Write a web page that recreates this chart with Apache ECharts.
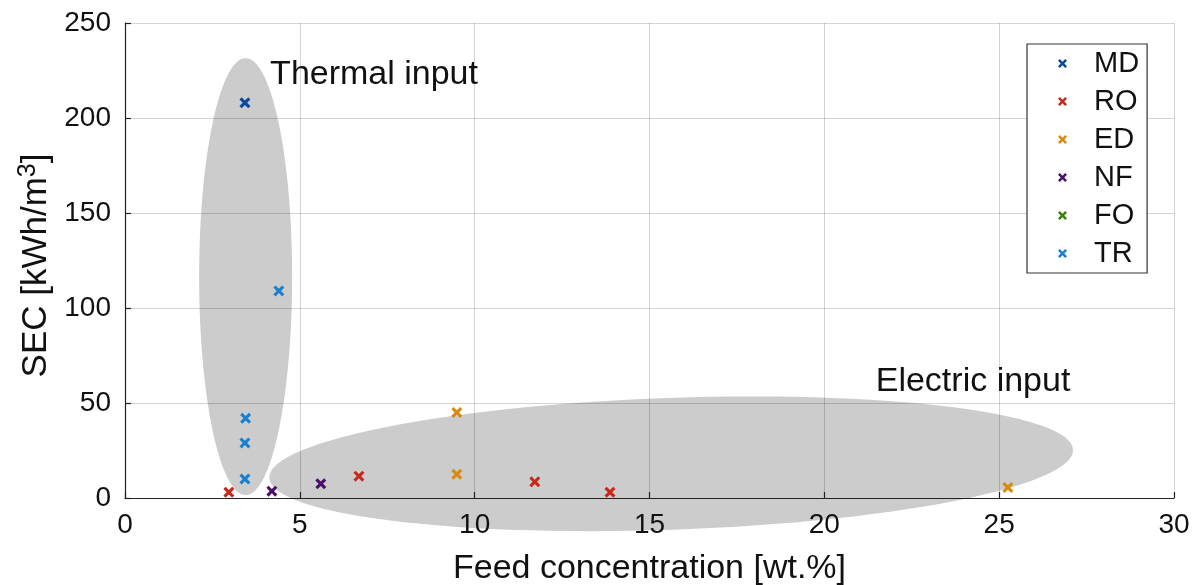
<!DOCTYPE html>
<html>
<head>
<meta charset="utf-8">
<script src="https://cdn.jsdelivr.net/npm/echarts@6/dist/echarts.min.js"></script>
<style>
html,body{margin:0;padding:0;background:#fff;}
#chart{width:1203px;height:585px;}
</style>
</head>
<body>
<div id="chart"></div>
<script>
// ---- data ----
var seriesNames = ['MD', 'RO', 'ED', 'NF', 'FO', 'TR'];
var seriesColors = ['#0a4a9e', '#c8281a', '#d98a10', '#4a0f6a', '#3a7f10', '#1880d0'];
var MD = [[3.43, 208]];
var RO = [[2.97, 3], [6.69, 11.5], [11.72, 8.5], [13.87, 3]];
var ED = [[9.49, 45], [9.49, 12.5], [25.25, 5.5]];
var NF = [[4.2, 3.6], [5.6, 7.5]];
var FO = [];
var TR = [[4.4, 109], [3.45, 42], [3.43, 29], [3.43, 10]];
// ellipses: [cx, cy, rx, ry, rotationDeg]
var ellipses = [[3.45, 116.5, 1.33, 115, 0], [15.62, 18, 11.5, 34.7, 2]];
// annotations: [x, y, text]
var annotations = [[4.15, 223, 'Thermal input'], [21.47, 61, 'Electric input']];
var xTicks = [0, 5, 10, 15, 20, 25, 30];
var yTicks = [0, 50, 100, 150, 200, 250];

var xPath = 'path://M0,2 L2,0 L5,3 L8,0 L10,2 L7,5 L10,8 L8,10 L5,7 L2,10 L0,8 L3,5 Z';
var FONT = '"Liberation Sans", Arial, Helvetica, sans-serif';
var chart = echarts.init(document.getElementById('chart'));
var dataMap = {MD: MD, RO: RO, ED: ED, NF: NF, FO: FO, TR: TR};

var series = [];
series.push({
  type: 'custom',
  name: 'ellipses',
  z: 1,
  clip: false,
  silent: true,
  data: ellipses,
  renderItem: function (params, api) {
    var c = api.coord([api.value(0), api.value(1)]);
    var s = api.size([api.value(2), api.value(3)]);
    var rot = -api.value(4) * Math.PI / 180;
    var pts = [];
    for (var i = 0; i < 120; i++) {
      var t = i / 120 * Math.PI * 2;
      var ex = s[0] * Math.cos(t), ey = s[1] * Math.sin(t);
      pts.push([c[0] + ex * Math.cos(rot) - ey * Math.sin(rot), c[1] + ex * Math.sin(rot) + ey * Math.cos(rot)]);
    }
    return {type: 'polygon', shape: {points: pts}, style: {fill: '#cccccc', stroke: null}};
  }
});
series.push({
  type: 'custom',
  name: 'annotations',
  z: 12,
  clip: false,
  silent: true,
  data: annotations,
  renderItem: function (params, api) {
    var c = api.coord([api.value(0), api.value(1)]);
    return {type: 'text', x: c[0], y: c[1], style: {text: annotations[params.dataIndex][2], fill: '#111', font: '34px ' + FONT, textAlign: 'left', textVerticalAlign: 'middle'}};
  }
});
seriesNames.forEach(function (n, i) {
  series.push({
    type: 'scatter',
    name: n,
    z: 10,
    data: dataMap[n],
    symbol: xPath,
    symbolSize: 11,
    itemStyle: {color: seriesColors[i], opacity: 1},
    emphasis: {disabled: true}
  });
});

chart.setOption({
  animation: false,
  backgroundColor: '#fff',
  grid: {left: 125, right: 29, top: 23, bottom: 87, containLabel: false, outerBoundsMode: 'none'},
  xAxis: {
    type: 'value', min: 0, max: 30, interval: 5, z: 5,
    name: 'Feed concentration [wt.%]', nameLocation: 'middle', nameGap: 54,
    nameTextStyle: {fontFamily: FONT, fontSize: 34, color: '#111'},
    axisLine: {show: true, onZero: false, lineStyle: {color: '#222', width: 1.2}},
    axisTick: {show: true, inside: true, length: 6, lineStyle: {color: '#222', width: 1.2}},
    axisLabel: {fontFamily: FONT, fontSize: 28, color: '#111', margin: 13,
      formatter: function (v) { return xTicks.indexOf(v) >= 0 ? String(v) : ''; }},
    splitLine: {show: true, lineStyle: {color: 'rgba(0,0,0,0.17)', width: 1}}
  },
  yAxis: {
    type: 'value', min: 0, max: 250, interval: 50, z: 5,
    name: '{a|SEC [kWh/m}{s|3}{a|]}', nameLocation: 'middle', nameGap: 66,
    nameTextStyle: {fontFamily: FONT, fontSize: 35, color: '#111', padding: [0, 10, 0, 0],
      rich: {a: {fontFamily: FONT, fontSize: 35, color: '#111'}, s: {fontFamily: FONT, fontSize: 25, color: '#111', padding: [0, 0, 16, 0]}}},
    axisLine: {show: true, onZero: false, lineStyle: {color: '#222', width: 1.2}},
    axisTick: {show: true, inside: true, length: 6, lineStyle: {color: '#222', width: 1.2}},
    axisLabel: {fontFamily: FONT, fontSize: 28, color: '#111', margin: 14,
      formatter: function (v) { return yTicks.indexOf(v) >= 0 ? String(v) : ''; }},
    splitLine: {show: true, lineStyle: {color: 'rgba(0,0,0,0.17)', width: 1}}
  },
  legend: {
    data: seriesNames.map(function (n) { return {name: n, icon: xPath}; }),
    orient: 'vertical',
    left: 1027, top: 44,
    padding: [5, 8, 5, 31],
    itemWidth: 9, itemHeight: 9, itemGap: 9,
    borderColor: '#333', borderWidth: 1.2, borderRadius: 0,
    backgroundColor: '#fff',
    selectedMode: false,
    z: 20,
    textStyle: {fontFamily: FONT, fontSize: 29, color: '#111', padding: [0, 0, 0, 22], lineHeight: 28}
  },
  series: series
});
</script>
</body>
</html>
